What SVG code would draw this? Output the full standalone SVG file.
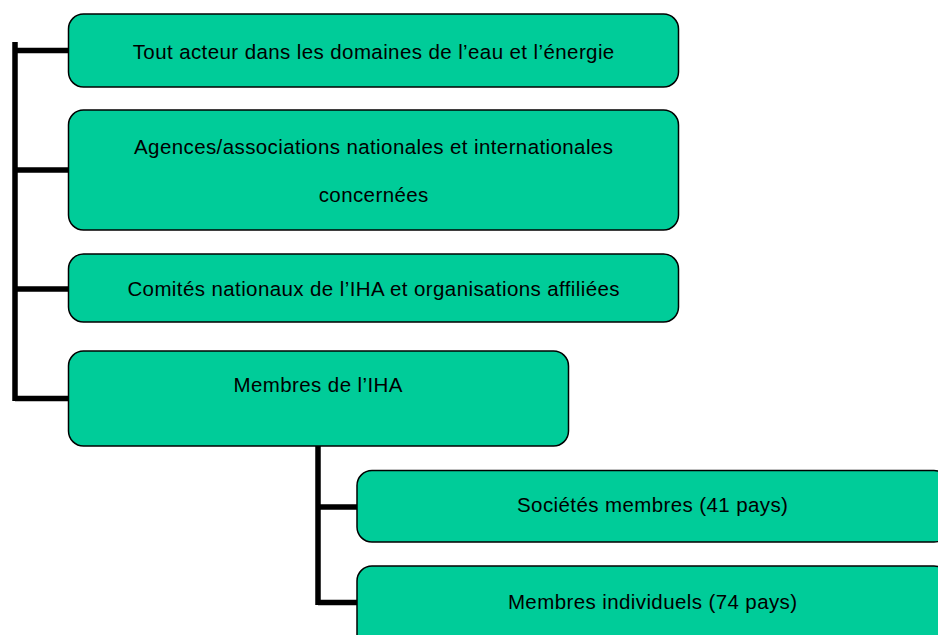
<svg xmlns="http://www.w3.org/2000/svg" width="938" height="635" viewBox="0 0 938 635">
<style>
.box{fill:#00CC99;stroke:#000;stroke-width:1.5}
.t{font-family:"Liberation Sans",Arial,sans-serif;font-size:20.5px;letter-spacing:0.4px;fill:#000;text-anchor:middle}
.c{fill:none;stroke:#000;stroke-width:5.5;stroke-linecap:butt;stroke-linejoin:miter}
</style>
<rect width="938" height="635" fill="#fff"/>
<g id="connectors">
<path class="c" d="M15,42 V401 M15,50.5 H69 M15,170 H69 M15,289 H69 M15,398.5 H69"/>
<path class="c" d="M318,446 V605 M318,507 H358 M318,602.5 H358"/>
</g>
<g id="n1">
<rect class="box" x="68.5" y="14" width="610" height="73" rx="15"/>
<text class="t" x="373.7" y="59">Tout acteur dans les domaines de l’eau et l’énergie</text>
</g>
<g id="n2">
<rect class="box" x="68.5" y="110" width="610" height="120" rx="15"/>
<text class="t" x="373.7" y="154">Agences/associations nationales et internationales</text>
<text class="t" x="373.7" y="201.5">concernées</text>
</g>
<g id="n3">
<rect class="box" x="68.5" y="254" width="610" height="68" rx="15"/>
<text class="t" x="373.7" y="296">Comités nationaux de l’IHA et organisations affiliées</text>
</g>
<g id="n4">
<rect class="box" x="68.5" y="351" width="500" height="95" rx="15"/>
<text class="t" x="318.2" y="391.5">Membres de l’IHA</text>
</g>
<g id="n5">
<rect class="box" x="357" y="470.5" width="592" height="71.5" rx="15"/>
<text class="t" x="652.7" y="511.5">Sociétés membres (41 pays)</text>
</g>
<g id="n6">
<rect class="box" x="357" y="566" width="592" height="90" rx="15"/>
<text class="t" x="652.7" y="609">Membres individuels (74 pays)</text>
</g>
</svg>
